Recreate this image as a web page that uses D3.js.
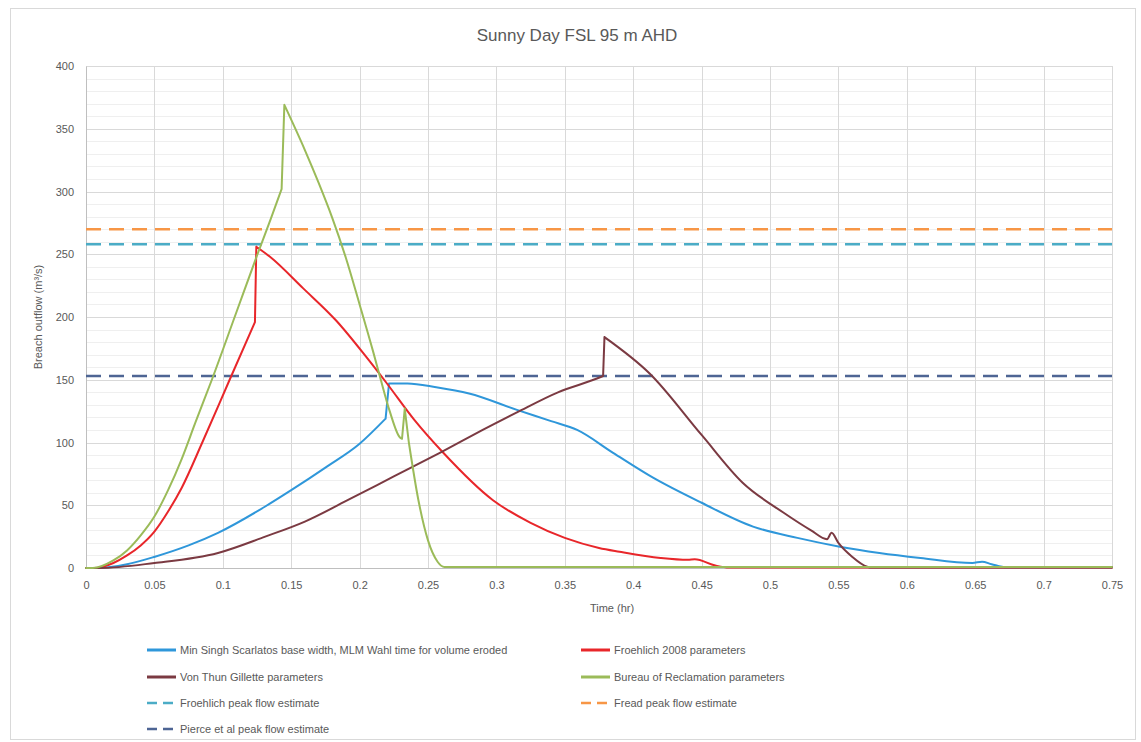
<!DOCTYPE html>
<html>
<head>
<meta charset="utf-8">
<script src="https://cdn.jsdelivr.net/npm/d3@7"></script>
<style>
  body { margin: 0; background: #fff; }
  text { font-family: "Liberation Sans", "DejaVu Sans", sans-serif; fill: #595959; }
</style>
</head>
<body>
<script>
var width = 1141;
var height = 742;

// series: time (hr) and outflow (m3/s)
var singhT = [0, 0.008, 0.03, 0.0504, 0.075, 0.0965, 0.131, 0.15, 0.175, 0.2, 0.219, 0.2215, 0.235, 0.256, 0.28, 0.315, 0.34, 0.359, 0.385, 0.4145, 0.45, 0.4876, 0.52, 0.551, 0.58, 0.61, 0.648, 0.655, 0.662, 0.673, 0.75];
var singhQ = [0, 0, 3, 9, 18, 28, 49, 62, 80, 99, 119, 147, 147, 144, 139, 126, 117, 110, 92, 72, 52, 33, 24, 17, 12, 8, 4, 5, 3, 0.5, 0.5];

var froehT = [0, 0.006, 0.02, 0.03, 0.04, 0.05, 0.06, 0.07, 0.085, 0.105, 0.1235, 0.1245, 0.1345, 0.1586, 0.183, 0.205, 0.22, 0.24, 0.261, 0.2975, 0.325, 0.35, 0.375, 0.39, 0.42, 0.44, 0.445, 0.46, 0.47, 0.75];
var froehQ = [0, 0, 4, 10, 18, 29, 45, 64, 100, 150, 196, 256, 248, 223, 197, 168, 147, 118, 92, 54, 36, 24, 16, 13, 8, 6.5, 7, 2, 0.3, 0.3];

var vonThunT = [0, 0.01, 0.05, 0.0965, 0.131, 0.16, 0.193, 0.225, 0.259, 0.29, 0.315, 0.345, 0.3735, 0.378, 0.379, 0.412, 0.45, 0.48, 0.51, 0.53, 0.5417, 0.545, 0.55, 0.56, 0.571, 0.575, 0.75];
var vonThunQ = [0, 0, 4, 12, 25, 37, 55, 73, 92, 110, 124, 140, 151, 153, 184, 155, 106, 68, 44, 30, 23, 28, 20, 9, 1, 0.3, 0.3];

var burecT = [0, 0.005, 0.02, 0.03, 0.04, 0.05, 0.06, 0.07, 0.08, 0.092, 0.11, 0.125, 0.135, 0.143, 0.145, 0.16, 0.17, 0.18, 0.19, 0.2, 0.21, 0.215, 0.222, 0.2295, 0.231, 0.233, 0.236, 0.243, 0.25, 0.257, 0.262, 0.75];
var burecQ = [0, 0, 6, 14, 26, 41, 62, 87, 116, 150, 204, 249, 278, 302, 369, 333, 307, 279, 247, 210, 172, 152, 125, 104, 103, 127, 100, 54, 22, 5, 0.8, 0.8];

// peak flow estimates
var estNames = ["Froehlich peak flow estimate", "Fread peak flow estimate", "Pierce et al peak flow estimate"];
var estValues = [258, 270, 153];

var xTicks = [0, 0.05, 0.1, 0.15, 0.2, 0.25, 0.3, 0.35, 0.4, 0.45, 0.5, 0.55, 0.6, 0.65, 0.7, 0.75];
var yTicks = [0, 50, 100, 150, 200, 250, 300, 350, 400];

var margin = { left: 86, right: 29, top: 66, bottom: 174 };

var x = d3.scaleLinear().domain([0, 0.75]).range([margin.left, width - margin.right]);
var y = d3.scaleLinear().domain([0, 400]).range([height - margin.bottom, margin.top]);

var svg = d3.select("body").append("svg")
  .attr("width", width)
  .attr("height", height);

svg.append("rect")
  .attr("x", 10.5).attr("y", 8.5)
  .attr("width", 1125).attr("height", 731)
  .attr("fill", "#fff")
  .attr("stroke", "#d9d9d9");

// minor gridlines every 10
svg.append("g")
  .selectAll("line")
  .data(d3.range(10, 400, 10).filter(function (d) { return d % 50 !== 0; }))
  .enter().append("line")
  .attr("x1", x(0)).attr("x2", x(0.75))
  .attr("y1", function (d) { return Math.round(y(d)) + 0.5; })
  .attr("y2", function (d) { return Math.round(y(d)) + 0.5; })
  .attr("stroke", "#efefef");

// major gridlines
svg.append("g")
  .selectAll("line")
  .data(yTicks.slice(1))
  .enter().append("line")
  .attr("x1", x(0)).attr("x2", x(0.75))
  .attr("y1", function (d) { return Math.round(y(d)) + 0.5; })
  .attr("y2", function (d) { return Math.round(y(d)) + 0.5; })
  .attr("stroke", "#d9d9d9");

svg.append("g")
  .selectAll("line")
  .data(xTicks.slice(1))
  .enter().append("line")
  .attr("x1", function (d) { return Math.round(x(d)) + 0.5; })
  .attr("x2", function (d) { return Math.round(x(d)) + 0.5; })
  .attr("y1", y(0)).attr("y2", y(400))
  .attr("stroke", "#d9d9d9");

// axes
var xAxis = svg.append("g")
  .attr("transform", "translate(0," + y(0) + ")")
  .call(d3.axisBottom(x).tickValues(xTicks).tickSize(0).tickPadding(13).tickFormat(function (d) { return String(d); }));
var yAxis = svg.append("g")
  .attr("transform", "translate(" + x(0) + ",0)")
  .call(d3.axisLeft(y).tickValues(yTicks).tickSize(0).tickPadding(12));
[xAxis, yAxis].forEach(function (a) {
  a.select(".domain").attr("stroke", "#bfbfbf");
  a.selectAll("text").attr("font-size", 11).attr("fill", "#595959")
    .attr("font-family", "Liberation Sans, sans-serif");
});

// peak flow lines
var estColors = ["#4bacc6", "#f79646", "#4e6594"];
svg.append("g")
  .selectAll("line")
  .data(estValues)
  .enter().append("line")
  .attr("x1", x(0)).attr("x2", x(0.75))
  .attr("y1", function (d) { return y(d); })
  .attr("y2", function (d) { return y(d); })
  .attr("stroke", function (d, i) { return estColors[i]; })
  .attr("stroke-width", 2.5)
  .attr("stroke-dasharray", "15,8");

var line = d3.line()
  .x(function (d) { return x(d[0]); })
  .y(function (d) { return y(d[1]); })
  .curve(d3.curveMonotoneX);

// split at the sudden jumps so the smoothing does not bend around them
function seriesPath(t, q) {
  var pts = d3.zip(t, q);
  var pieces = [], cur = [pts[0]];
  for (var i = 1; i < pts.length; i++) {
    if (pts[i][0] - pts[i - 1][0] < 0.003 && Math.abs(pts[i][1] - pts[i - 1][1]) > 10) {
      pieces.push(cur);
      pieces.push([pts[i - 1], pts[i]]);
      cur = [pts[i]];
    } else {
      cur.push(pts[i]);
    }
  }
  pieces.push(cur);
  return pieces.filter(function (p) { return p.length > 1; }).map(function (p) { return line(p); }).join("");
}

var series = [
  { name: "Min Singh Scarlatos base width, MLM Wahl time for volume eroded", t: singhT, q: singhQ, color: "#2f97da" },
  { name: "Froehlich 2008 parameters", t: froehT, q: froehQ, color: "#e8262a" },
  { name: "Von Thun Gillette parameters", t: vonThunT, q: vonThunQ, color: "#7b3a42" },
  { name: "Bureau of Reclamation parameters", t: burecT, q: burecQ, color: "#9bbb59" }
];

svg.append("g")
  .selectAll("path")
  .data(series)
  .enter().append("path")
  .attr("d", function (s) { return seriesPath(s.t, s.q); })
  .attr("fill", "none")
  .attr("stroke", function (s) { return s.color; })
  .attr("stroke-width", 2)
  .attr("stroke-linejoin", "round")
  .attr("stroke-linecap", "round");

// titles
svg.append("text")
  .attr("x", 577).attr("y", 41)
  .attr("text-anchor", "middle")
  .attr("font-size", 17)
  .text("Sunny Day FSL 95 m AHD");

svg.append("text")
  .attr("x", 612).attr("y", 612)
  .attr("text-anchor", "middle")
  .attr("font-size", 11)
  .text("Time (hr)");

svg.append("text")
  .attr("transform", "translate(42," + y(200) + ") rotate(-90)")
  .attr("text-anchor", "middle")
  .attr("font-size", 11)
  .text("Breach outflow (m\u00b3/s)");

// legend
var legendItems = [
  { name: series[0].name, color: series[0].color, dash: null, col: 0, row: 0 },
  { name: series[1].name, color: series[1].color, dash: null, col: 1, row: 0 },
  { name: series[2].name, color: series[2].color, dash: null, col: 0, row: 1 },
  { name: series[3].name, color: series[3].color, dash: null, col: 1, row: 1 },
  { name: estNames[0], color: estColors[0], dash: "10,6", col: 0, row: 2 },
  { name: estNames[1], color: estColors[1], dash: "10,6", col: 1, row: 2 },
  { name: estNames[2], color: estColors[2], dash: "10,6", col: 0, row: 3 }
];
var colX = [147, 581];
var rowY = [650, 677, 703, 729];

var leg = svg.append("g")
  .selectAll("g")
  .data(legendItems)
  .enter().append("g")
  .attr("transform", function (d) { return "translate(" + colX[d.col] + "," + rowY[d.row] + ")"; });
leg.append("line")
  .attr("x1", 0).attr("x2", 29)
  .attr("stroke", function (d) { return d.color; })
  .attr("stroke-width", function (d) { return d.dash ? 2.5 : 3; })
  .attr("stroke-dasharray", function (d) { return d.dash; });
leg.append("text")
  .attr("x", 33).attr("dy", "0.35em")
  .attr("font-size", 11)
  .text(function (d) { return d.name; });
</script>
</body>
</html>
